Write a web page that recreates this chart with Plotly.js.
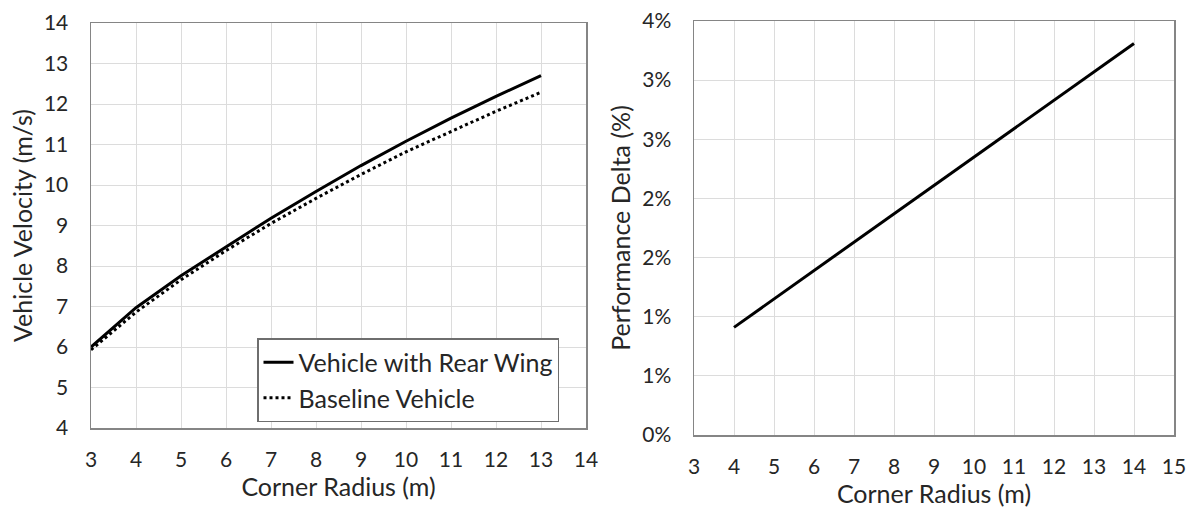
<!DOCTYPE html>
<html>
<head>
<meta charset="utf-8">
<script src="https://cdn.plot.ly/plotly-3.0.1.min.js"></script>
<style>
html,body{margin:0;padding:0;background:#fff;}
#chart{width:1195px;height:513px;}
</style>
</head>
<body>
<div id="chart"></div>
<script>
// Left chart: vehicle velocity vs corner radius
const radiusLeft = [3, 4, 5, 6, 7, 8, 9, 10, 11, 12, 13];
const velocityWing = [6.0, 6.97, 7.76, 8.47, 9.18, 9.84, 10.48, 11.08, 11.65, 12.19, 12.70];
const velocityBaseline = [5.93, 6.86, 7.66, 8.38, 9.05, 9.67, 10.26, 10.82, 11.32, 11.82, 12.29];

// Right chart: performance delta (%) vs corner radius
const radiusRight = [4, 5, 6, 7, 8, 9, 10, 11, 12, 13, 14];
const perfDelta = [0.91, 1.15, 1.39, 1.63, 1.87, 2.11, 2.35, 2.59, 2.83, 3.07, 3.31];

const leftXTicks = [3, 4, 5, 6, 7, 8, 9, 10, 11, 12, 13, 14];
const leftYTicks = [4, 5, 6, 7, 8, 9, 10, 11, 12, 13, 14];
const rightXTicks = [3, 4, 5, 6, 7, 8, 9, 10, 11, 12, 13, 14, 15];
const rightYTickVals = [0, 0.5, 1, 1.5, 2, 2.5, 3, 3.5];
const rightYTickText = ['0%', '1%', '1%', '2%', '2%', '3%', '3%', '4%'];

const seriesNames = ['Vehicle with Rear Wing', 'Baseline Vehicle'];

const FONT = 'Lato, "Open Sans", sans-serif';
function tf() { return {family: FONT, size: 21, color: '#262626'}; }
function ttf() { return {family: FONT, size: 25, color: '#262626'}; }

function axis(extra) {
  return Object.assign({
    showgrid: true, gridcolor: '#dcdcdc', gridwidth: 1,
    showline: true, mirror: true, linecolor: '#858585', linewidth: 1.5,
    zeroline: false, tickfont: tf(), tickmode: 'array',
    ticks: 'outside', tickcolor: 'rgba(0,0,0,0)', fixedrange: true
  }, extra);
}

const traces = [
  {x: radiusLeft, y: velocityWing, name: seriesNames[0], type: 'scatter', mode: 'lines',
   line: {color: '#000', width: 3}, xaxis: 'x', yaxis: 'y'},
  {x: radiusLeft, y: velocityBaseline, name: seriesNames[1], type: 'scatter', mode: 'lines',
   line: {color: '#000', width: 3, dash: 'dot'}, xaxis: 'x', yaxis: 'y'},
  {x: radiusRight, y: perfDelta, name: 'Performance Delta', type: 'scatter', mode: 'lines',
   line: {color: '#000', width: 3}, xaxis: 'x2', yaxis: 'y2', showlegend: false}
];

const layout = {
  width: 1195, height: 513,
  margin: {l: 0, r: 0, t: 0, b: 0},
  paper_bgcolor: '#fff', plot_bgcolor: '#fff',
  font: {family: FONT, size: 21, color: '#262626'},
  xaxis: axis({
    domain: [91/1195, 586/1195], range: [3, 14],
    tickvals: leftXTicks, ticklen: 12,
    title: {text: 'Corner Radius (m)', font: ttf(), standoff: 8}
  }),
  yaxis: axis({
    domain: [85/513, 490/513], range: [4, 14],
    tickvals: leftYTicks, ticklen: 17,
    title: {text: 'Vehicle Velocity (m/s)', font: ttf(), standoff: 4}
  }),
  xaxis2: axis({
    domain: [694/1195, 1174/1195], range: [3, 15], anchor: 'y2',
    tickvals: rightXTicks, ticklen: 12,
    title: {text: 'Corner Radius (m)', font: ttf(), standoff: 8}
  }),
  yaxis2: axis({
    domain: [78/513, 492/513], range: [0, 3.5], anchor: 'x2',
    tickvals: rightYTickVals, ticktext: rightYTickText, ticklen: 17,
    title: {text: 'Performance Delta (%)', font: ttf(), standoff: 4}
  }),
  showlegend: true,
  legend: {
    x: 257/1195, y: 1 - 338/513, xanchor: 'left', yanchor: 'top',
    bgcolor: '#fff', bordercolor: '#6e6e6e', borderwidth: 1.5,
    font: {family: FONT, size: 25, color: '#262626'},
    tracegroupgap: 0, itemwidth: 30
  }
};

Plotly.newPlot('chart', traces, layout, {staticPlot: true, displayModeBar: false});
</script>
</body>
</html>
